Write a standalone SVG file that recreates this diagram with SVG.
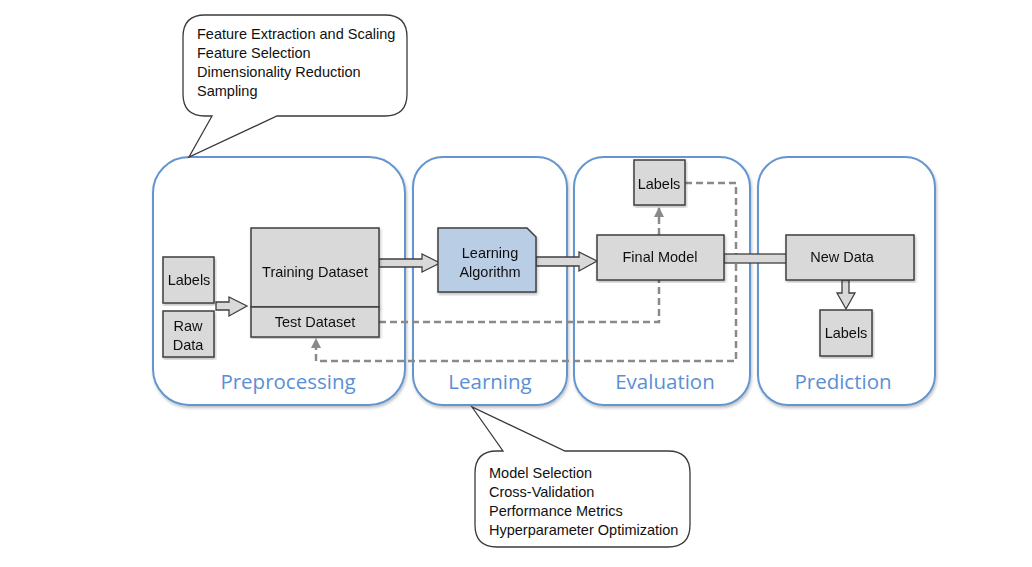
<svg xmlns="http://www.w3.org/2000/svg" width="1032" height="567" viewBox="0 0 1032 567">
  <defs>
    <style>
      .panel { fill: #ffffff; stroke: #6495cf; stroke-width: 2; }
      .box { fill: #d9d9d9; stroke: #3f3f3f; stroke-width: 1.5; }
      .algo { fill: #b9cde5; stroke: #3f3f3f; stroke-width: 1.5; }
      .hollow { fill: #d9d9d9; stroke: #3f3f3f; stroke-width: 1.3; stroke-linejoin: miter; }
      .dash { fill: none; stroke: #8a8a8a; stroke-width: 2.5; stroke-dasharray: 7 4; }
      .callout { fill: #ffffff; stroke: #3a3a3a; stroke-width: 1.3; }
      .t { font-family: "Liberation Sans", Arial, sans-serif; font-size: 14.5px; fill: #111111; }
      .c { text-anchor: middle; }
      .title { font-family: "Open Sans", "Liberation Sans", sans-serif; font-size: 20.5px; fill: #5b8fd4; text-anchor: middle; }
    </style>
    <marker id="ah" viewBox="0 0 10 10" refX="9" refY="5" markerWidth="4" markerHeight="4" orient="auto" markerUnits="strokeWidth">
      <path d="M0,0 L10,5 L0,10 z" fill="#8a8a8a"/>
    </marker>
    <filter id="sh" x="-5%" y="-5%" width="110%" height="110%">
      <feDropShadow dx="1" dy="2" stdDeviation="1.5" flood-color="#000000" flood-opacity="0.25"/>
    </filter>
  </defs>

  <rect width="1032" height="567" fill="#ffffff"/>

  <!-- Panels -->
  <g id="panel-preprocessing">
    <rect class="panel" x="153" y="157" width="252" height="248" rx="36" ry="36" filter="url(#sh)"/>
    <text class="title" x="288" y="389">Preprocessing</text>
  </g>
  <g id="panel-learning">
    <rect class="panel" x="413" y="157" width="154" height="248" rx="30" ry="30" filter="url(#sh)"/>
    <text class="title" x="490" y="389">Learning</text>
  </g>
  <g id="panel-evaluation">
    <rect class="panel" x="574" y="157" width="176" height="248" rx="30" ry="30" filter="url(#sh)"/>
    <text class="title" x="665" y="389">Evaluation</text>
  </g>
  <g id="panel-prediction">
    <rect class="panel" x="758" y="157" width="177" height="248" rx="30" ry="30" filter="url(#sh)"/>
    <text class="title" x="843" y="389">Prediction</text>
  </g>

  <!-- Connectors -->
  <g id="connectors">
    <!-- dashed: Final Model -> Labels (top) -->
    <path class="dash" d="M659,235 L659,208" marker-end="url(#ah)"/>
    <!-- dashed: Test Dataset -> Final Model -->
    <path class="dash" d="M379,322 L659,322 L659,280"/>
    <!-- dashed: Labels (top) -> Test Dataset -->
    <path class="dash" d="M685,183 L736,183 L736,361 L316,361 L316,339" marker-end="url(#ah)"/>

    <!-- hollow arrows -->
    <polygon class="hollow" points="216,302 229,302 229,297 247,306 229,316 229,310 216,310"/>
    <polygon class="hollow" points="379,259 422,259 422,254 440,263 422,272 422,267 379,267"/>
    <polygon class="hollow" points="536,257 579,257 579,252 597,261 579,271 579,266 536,266"/>
    <rect class="hollow" x="724" y="254" width="63" height="9"/>
    <polygon class="hollow" points="842,280 842,293 837,293 846,309 855,293 849,293 849,280"/>
  </g>

  <!-- Nodes -->
  <g id="node-labels-in" filter="url(#sh)">
    <rect class="box" x="163" y="257" width="51" height="46"/>
    <text class="t c" x="189" y="285">Labels</text>
  </g>
  <g id="node-raw-data" filter="url(#sh)">
    <rect class="box" x="163" y="311" width="51" height="46"/>
    <text class="t c" x="188" y="331">Raw</text>
    <text class="t c" x="188" y="350">Data</text>
  </g>
  <g id="node-training-dataset" filter="url(#sh)">
    <rect class="box" x="251" y="228" width="128" height="79"/>
    <text class="t c" x="315" y="277">Training Dataset</text>
  </g>
  <g id="node-test-dataset" filter="url(#sh)">
    <rect class="box" x="251" y="307" width="128" height="30"/>
    <text class="t c" x="315" y="327">Test Dataset</text>
  </g>
  <g id="node-learning-algorithm" filter="url(#sh)">
    <path class="algo" d="M438,228 L527,228 L536,237 L536,292 L438,292 Z"/>
    <text class="t c" x="490" y="258">Learning</text>
    <text class="t c" x="490" y="277">Algorithm</text>
  </g>
  <g id="node-final-model" filter="url(#sh)">
    <rect class="box" x="597" y="235" width="127" height="45"/>
    <text class="t c" x="660" y="262">Final Model</text>
  </g>
  <g id="node-labels-eval" filter="url(#sh)">
    <rect class="box" x="634" y="160" width="51" height="45"/>
    <text class="t c" x="659" y="189">Labels</text>
  </g>
  <g id="node-new-data" filter="url(#sh)">
    <rect class="box" x="786" y="235" width="128" height="45"/>
    <text class="t c" x="842" y="262">New Data</text>
  </g>
  <g id="node-labels-pred" filter="url(#sh)">
    <rect class="box" x="820" y="310" width="52" height="46"/>
    <text class="t c" x="846" y="338">Labels</text>
  </g>

  <!-- Callouts -->
  <g id="callout-preprocessing">
    <path class="callout" d="M205,15 L385,15 Q407,15 407,37 L407,94 Q407,116 385,116 L277,116 L189,157 L212,116 L205,116 Q183,116 183,94 L183,37 Q183,15 205,15 Z"/>
    <text class="t" x="197" y="39">Feature Extraction and Scaling</text>
    <text class="t" x="197" y="58">Feature Selection</text>
    <text class="t" x="197" y="77">Dimensionality Reduction</text>
    <text class="t" x="197" y="96">Sampling</text>
  </g>
  <g id="callout-learning">
    <path class="callout" d="M497,451 L503,451 L472,407 L565,451 L668,451 Q690,451 690,473 L690,525 Q690,547 668,547 L497,547 Q475,547 475,525 L475,473 Q475,451 497,451 Z"/>
    <text class="t" x="489" y="478">Model Selection</text>
    <text class="t" x="489" y="497">Cross-Validation</text>
    <text class="t" x="489" y="516">Performance Metrics</text>
    <text class="t" x="489" y="535">Hyperparameter Optimization</text>
  </g>
</svg>
